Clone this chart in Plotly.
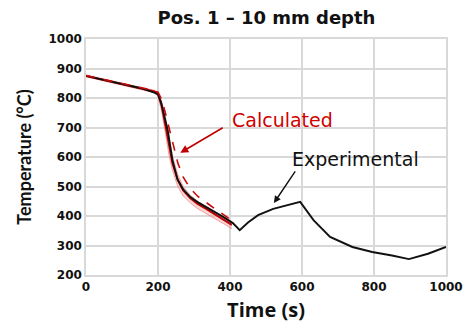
import plotly.graph_objects as go

# Experimental thermocouple record, Pos. 1 at 10 mm depth
t_exp = [0, 50, 100, 150, 190, 200, 209, 218, 227, 240, 254, 270, 290, 310, 335,
         360, 381, 408, 427, 450, 462, 478, 520, 560, 595, 632, 678, 740, 795,
         850, 897, 950, 1000]
T_exp = [875, 861, 847, 834, 818, 812, 783, 737, 691, 590, 525, 490, 464, 447,
         430, 413, 397, 376, 352, 378, 390, 403, 424, 438, 448, 386, 329, 295,
         278, 266, 254, 272, 295]

# Calculated cooling curves (model runs)
t_calc = [0, 25, 50, 75, 100, 125, 150, 170, 190, 200, 210, 220, 230, 240, 255,
          270, 290, 310, 335, 360, 385, 405]
T_calc = [875, 868, 861, 853, 847, 840, 834, 828, 822, 815, 775, 712, 640, 580,
          522, 487, 460, 441, 423, 405, 387, 370]
T_calc_dash = [876, 870, 863, 856, 849, 843, 837, 831, 825, 820, 795, 752, 700,
               648, 580, 532, 493, 467, 444, 423, 402, 385]
T_band_low = [872, 865, 857, 850, 843, 836, 830, 824, 818, 805, 755, 685, 610,
              555, 500, 468, 444, 425, 408, 390, 372, 357]
T_band_high = [878, 871, 864, 857, 850, 843, 837, 831, 826, 820, 790, 735, 665,
               605, 540, 500, 470, 450, 432, 414, 396, 380]

x_ticks = [0, 200, 400, 600, 800, 1000]
y_ticks = [200, 300, 400, 500, 600, 700, 800, 900, 1000]

fig = go.Figure()

# shaded spread of the calculated runs
fig.add_trace(go.Scatter(x=t_calc, y=T_band_high, mode="lines",
                         line=dict(color="rgba(235,110,110,0.6)", width=1),
                         hoverinfo="skip"))
fig.add_trace(go.Scatter(x=t_calc, y=T_band_low, mode="lines",
                         line=dict(color="rgba(235,110,110,0.6)", width=1),
                         fill="tonexty", fillcolor="rgba(240,140,140,0.35)",
                         hoverinfo="skip"))
fig.add_trace(go.Scatter(x=t_calc, y=T_calc, mode="lines",
                         line=dict(color="#c00000", width=2)))
fig.add_trace(go.Scatter(x=t_exp, y=T_exp, mode="lines",
                         line=dict(color="#111111", width=1.9)))
fig.add_trace(go.Scatter(x=t_calc, y=T_calc_dash, mode="lines",
                         line=dict(color="#c80c0c", width=1.6, dash="dash")))

grid = "#d9d9d9"
tick_font = dict(family="DejaVu Sans", size=12, color="#111111", weight="bold")
fig.update_layout(
    width=475, height=334,
    margin=dict(l=86, r=19, t=39, b=59),
    paper_bgcolor="white", plot_bgcolor="white",
    showlegend=False,
    title=dict(text="Pos. 1 \u2013 10 mm depth", x=0.561, xanchor="center",
               y=0.947, yanchor="middle",
               font=dict(family="DejaVu Sans", size=18, color="#111111",
                         weight="bold")),
    xaxis=dict(range=[0, 1000], tickvals=x_ticks, showgrid=True,
               gridcolor=grid, gridwidth=1.5, zeroline=False,
               showline=True, linecolor=grid, linewidth=1.5, mirror=True,
               ticks="", tickfont=tick_font,
               title=dict(text="Time (s)", standoff=10,
                          font=dict(family="Open Sans", size=20,
                                    color="#111111", weight="bold"))),
    yaxis=dict(range=[200, 1000], tickvals=y_ticks, showgrid=True,
               gridcolor=grid, gridwidth=1.5, zeroline=False,
               showline=True, linecolor=grid, linewidth=1.5, mirror=True,
               ticks="", tickfont=tick_font,
               title=dict(text="Temperature (\u00b0C)", standoff=12,
                          font=dict(family="Lato", size=18,
                                    color="#111111", weight="bold"))),
)

# labels
fig.add_annotation(x=546, y=725, xref="x", yref="y", text="Calculated",
                   showarrow=False, xanchor="center", yanchor="middle",
                   font=dict(family="DejaVu Sans", size=19, color="#d00000"))
fig.add_annotation(x=749, y=593, xref="x", yref="y", text="Experimental",
                   showarrow=False, xanchor="center", yanchor="middle",
                   font=dict(family="DejaVu Sans", size=19, color="#111111"))

# pointer arrows
fig.add_annotation(x=262, y=614, xref="x", yref="y", ax=384, ay=702,
                   axref="x", ayref="y", text="", showarrow=True,
                   arrowhead=2, arrowsize=1, arrowwidth=1.6,
                   arrowcolor="#c00000", standoff=0, startstandoff=0)
fig.add_annotation(x=522, y=444, xref="x", yref="y", ax=584, ay=556,
                   axref="x", ayref="y", text="", showarrow=True,
                   arrowhead=2, arrowsize=1, arrowwidth=1.4,
                   arrowcolor="#111111", standoff=0, startstandoff=0)

fig.write_html("out.html")
